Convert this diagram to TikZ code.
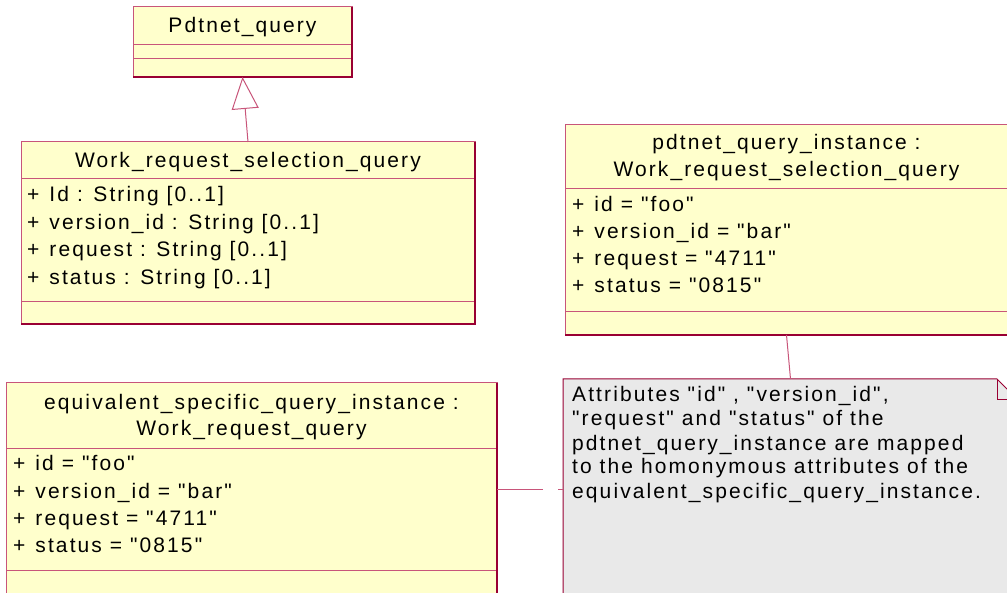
\documentclass[tikz,border=0pt]{standalone}
\usepackage{fontspec}
\setmainfont{Liberation Sans}[LetterSpace=10, Ligatures=TeXOff]
\usetikzlibrary{arrows.meta,calc}

\definecolor{umlfill}{HTML}{FFFFCC}
\definecolor{umlline}{HTML}{990033}
\definecolor{umlsep}{HTML}{C8557A}
\definecolor{notefill}{HTML}{E9E9E9}

\tikzset{
	classbox/.style={draw=umlsep, fill=umlfill, line width=1pt, inner sep=0pt, outer sep=0pt, anchor=north west},
	sepline/.style={umlsep, line width=0.9pt},
	shadowline/.style={umlline, line width=2pt},
	umltext/.style={inner sep=0pt, font=\fontsize{21}{27}\selectfont},
	link/.style={umlsep, line width=1pt},
	notebox/.style={draw=umlline, fill=notefill, line width=1pt},
}

\begin{document}
\begin{tikzpicture}[x=1pt, y=-1pt]
	\useasboundingbox (0,0) rectangle (1007,593);

	% Pdtnet_query
	\node[classbox, minimum width=219pt, minimum height=70pt] (pq) at (133,7) {};
	\draw[sepline] ($(pq.north west)+(0,37)$) -- ($(pq.north east)+(0,37)$);
	\draw[sepline] ($(pq.north west)+(0,51)$) -- ($(pq.north east)+(0,51)$);
	\draw[shadowline] (pq.south west) -- (pq.south east) -- (pq.north east);
	\node[umltext, anchor=base] (pq-name) at ($(pq.north)+(0,26)$) {Pdtnet\_query};

	% Work_request_selection_query
	\node[classbox, minimum width=454pt, minimum height=182pt] (wrsq) at (21,142) {};
	\draw[sepline] ($(wrsq.north west)+(0,36)$) -- ($(wrsq.north east)+(0,36)$);
	\draw[sepline] ($(wrsq.north west)+(0,159)$) -- ($(wrsq.north east)+(0,159)$);
	\draw[shadowline] (wrsq.south west) -- (wrsq.south east) -- (wrsq.north east);
	\node[umltext, anchor=base] (wrsq-name) at ($(wrsq.north)+(0,26)$) {Work\_request\_selection\_query};
	\foreach \txt [count=\i] in {{Id : String [0..1]}, {version\_id : String [0..1]}, {request : String [0..1]}, {status : String [0..1]}}
		\node[umltext, anchor=base west] (wrsq-a\i) at ($(wrsq.north west)+(6,32.5+27.5*\i)$) {+\hspace{10pt}\txt};

	\draw[link, -{Triangle[open, length=32pt, width=27pt, fill=white]}] (wrsq.north) -- (pq.south);

	% pdtnet_query_instance
	\node[classbox, minimum width=443pt, minimum height=210pt] (pqi) at (565,125) {};
	\draw[sepline] ($(pqi.north west)+(0,63)$) -- ($(pqi.north east)+(0,63)$);
	\draw[sepline] ($(pqi.north west)+(0,186)$) -- ($(pqi.north east)+(0,186)$);
	\draw[shadowline] (pqi.south west) -- (pqi.south east) -- (pqi.north east);
	\node[umltext, anchor=base] (pqi-name1) at ($(pqi.north)+(0,25)$) {pdtnet\_query\_instance :};
	\node[umltext, anchor=base] (pqi-name2) at ($(pqi.north)+(0,52)$) {Work\_request\_selection\_query};
	\foreach \txt [count=\i] in {{id = "foo"}, {version\_id = "bar"}, {request = "4711"}, {status = "0815"}}
		\node[umltext, anchor=base west] (pqi-a\i) at ($(pqi.north west)+(7,60+27*\i)$) {+\hspace{10pt}\txt};

	% equivalent_specific_query_instance
	\node[classbox, minimum width=491pt, minimum height=212pt] (esqi) at (6,383) {};
	\draw[sepline] ($(esqi.north west)+(0,65)$) -- ($(esqi.north east)+(0,65)$);
	\draw[sepline] ($(esqi.north west)+(0,187)$) -- ($(esqi.north east)+(0,187)$);
	\draw[shadowline] (esqi.south west) -- (esqi.south east) -- (esqi.north east);
	\node[umltext, anchor=base] (esqi-name1) at ($(esqi.north)+(0,27)$) {equivalent\_specific\_query\_instance :};
	\node[umltext, anchor=base] (esqi-name2) at ($(esqi.north)+(0,53)$) {Work\_request\_query};
	\foreach \txt [count=\i] in {{id = "foo"}, {version\_id = "bar"}, {request = "4711"}, {status = "0815"}}
		\node[umltext, anchor=base west] (esqi-a\i) at ($(esqi.north west)+(7,61+27*\i)$) {+\hspace{10pt}\txt};

	% note
	\node[inner sep=0pt, outer sep=0pt, anchor=north west, minimum width=455pt, minimum height=220pt] (note) at (563,379) {};
	\draw[notebox] (note.south west) -- (note.north west) -- ($(note.north east)+(-21,0)$)
		-- ($(note.north east)+(0,21)$) -- (note.south east) -- cycle;
	\draw[notebox, fill=none] ($(note.north east)+(-21,0)$) -- ($(note.north east)+(-21,21)$) -- ($(note.north east)+(0,21)$);
	\foreach \txt [count=\i] in {{Attributes "id" , "version\_id",}, {"request" and "status" of the}, {pdtnet\_query\_instance are mapped}, {to the homonymous attributes of the}, {equivalent\_specific\_query\_instance.}}
		\node[umltext, anchor=base west] (note-l\i) at ($(note.north west)+(9,-1+24*\i)$) {\txt};

	\draw[link] (pqi.south) -- (note.north);
	\draw[link, dash pattern=on 46pt off 15pt on 20pt] (esqi.east) -- (note.west);
\end{tikzpicture}
\end{document}
